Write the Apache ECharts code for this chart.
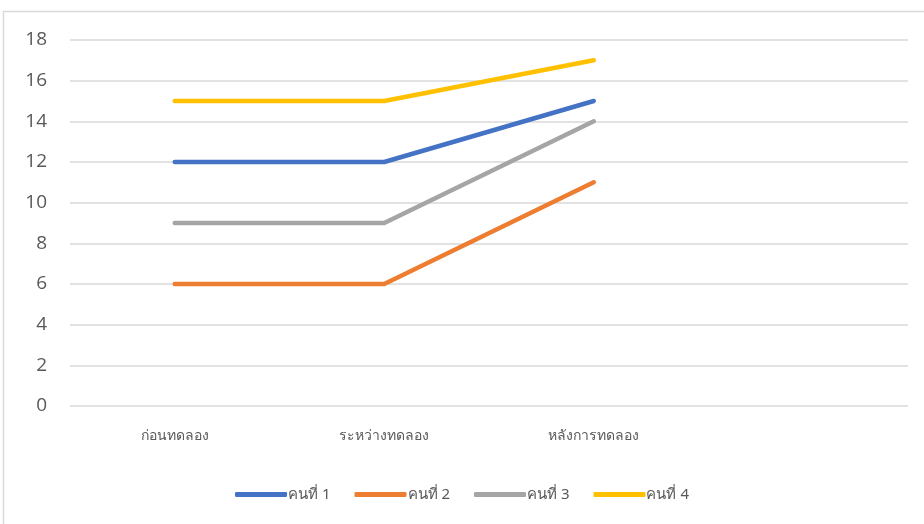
<!DOCTYPE html>
<html>
<head>
<meta charset="utf-8">
<script src="https://cdn.jsdelivr.net/npm/echarts@6/dist/echarts.min.js"></script>
<style>
  html, body { margin: 0; padding: 0; background: #fff; }
  #chart { width: 924px; height: 524px; }
</style>
</head>
<body>
<div id="chart"></div>
<script>
// Phases of the experiment (last band left empty)
const categories = ['ก่อนทดลอง', 'ระหว่างทดลอง', 'หลังการทดลอง', ''];
const seriesNames = ['คนที่ 1', 'คนที่ 2', 'คนที่ 3', 'คนที่ 4'];
const person1 = [12, 12, 15];
const person2 = [6, 6, 11];
const person3 = [9, 9, 14];
const person4 = [15, 15, 17];
const colors = ['#4472C4', '#ED7D31', '#A5A5A5', '#FFC000'];

const values = [person1, person2, person3, person4];
const chart = echarts.init(document.getElementById('chart'));

chart.setOption({
  animation: false,
  color: colors,
  graphic: [{
    type: 'rect',
    shape: { x: 3.5, y: 11.5, width: 940, height: 540 },
    style: { fill: 'none', stroke: '#d9d9d9', lineWidth: 1.5 },
    silent: true
  }],
  grid: { left: 70, right: 16, top: 40, bottom: 118, containLabel: false },
  xAxis: {
    type: 'category',
    data: categories,
    boundaryGap: true,
    axisLine: { show: false },
    axisTick: { show: false },
    axisLabel: { color: '#595959', fontSize: 14, fontFamily: 'Noto Sans, sans-serif', margin: 23 },
    splitLine: { show: false }
  },
  yAxis: {
    type: 'value',
    min: 0, max: 18, interval: 2,
    axisLine: { show: false },
    axisTick: { show: false },
    axisLabel: { color: '#595959', fontSize: 19, fontFamily: 'Open Sans, sans-serif', margin: 23 },
    splitLine: { lineStyle: { color: '#d9d9d9', width: 1.5 } }
  },
  legend: {
    bottom: 17,
    left: 'center',
    itemWidth: 52,
    itemHeight: 5,
    itemGap: 24,
    icon: 'roundRect',
    textStyle: { color: '#595959', fontSize: 15, fontFamily: 'Noto Sans, sans-serif', padding: [0, 0, 0, -4] },
    data: seriesNames
  },
  series: seriesNames.map((name, i) => ({
    name: name,
    type: 'line',
    data: values[i],
    symbol: 'none',
    lineStyle: { width: 4.5, color: colors[i], cap: 'round', join: 'round' },
    itemStyle: { color: colors[i] }
  }))
});
</script>
</body>
</html>
